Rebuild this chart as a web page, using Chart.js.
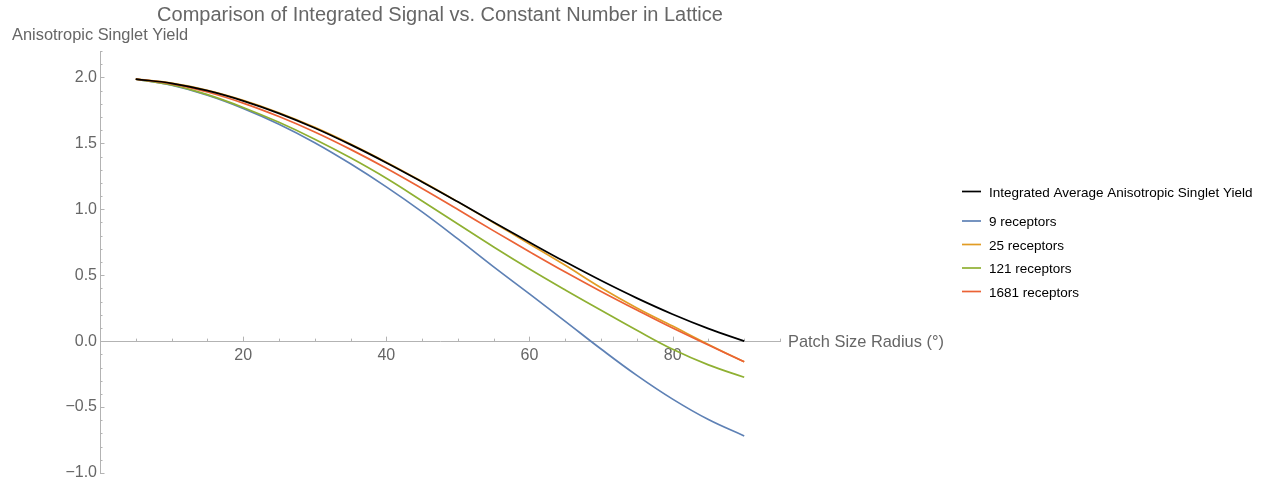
<!DOCTYPE html>
<html>
<head>
<meta charset="utf-8">
<script src="https://cdn.jsdelivr.net/npm/chart.js@4"></script>
<style>
    html, body { margin: 0; padding: 0; background: #fff; }
    #contenedor { width: 1265px; height: 481px; }
</style>
</head>
<body>
<div id="contenedor"><canvas id="graficoRendimiento" width="1265" height="481"></canvas></div>
<script>
// patch size radius (degrees)
const radios = [5, 10, 15, 20, 25, 30, 35, 40, 45, 50, 55, 60, 65, 70, 75, 80, 85, 90];

// anisotropic singlet yield
const promedioIntegrado = [1.987, 1.955, 1.899, 1.822, 1.727, 1.616, 1.490, 1.353, 1.207, 1.056, 0.902, 0.750, 0.601, 0.459, 0.326, 0.204, 0.095, 0.000];
const receptores9 = [1.987, 1.940, 1.865, 1.765, 1.645, 1.505, 1.345, 1.170, 0.980, 0.775, 0.563, 0.358, 0.150, -0.060, -0.260, -0.440, -0.595, -0.719];
const receptores25 = [1.987, 1.957, 1.902, 1.826, 1.732, 1.621, 1.495, 1.357, 1.210, 1.056, 0.897, 0.737, 0.575, 0.405, 0.252, 0.114, -0.025, -0.157];
const receptores121 = [1.987, 1.943, 1.869, 1.772, 1.659, 1.531, 1.390, 1.235, 1.063, 0.888, 0.714, 0.547, 0.388, 0.234, 0.082, -0.062, -0.180, -0.274];
const receptores1681 = [1.987, 1.951, 1.889, 1.805, 1.703, 1.586, 1.454, 1.311, 1.157, 0.998, 0.836, 0.678, 0.524, 0.377, 0.236, 0.099, -0.030, -0.157];

const etiquetas = ['Integrated Average Anisotropic Singlet Yield', '9 receptors', '25 receptors', '121 receptors', '1681 receptors'];
const ticksX = [20, 40, 60, 80];
const ticksY = [-1.0, -0.5, 0.0, 0.5, 1.0, 1.5, 2.0];

const titulo = 'Comparison of Integrated Signal vs. Constant Number in Lattice';
const tituloX = 'Patch Size Radius (°)';
const tituloY = 'Anisotropic Singlet Yield';

const fuente = '"Liberation Sans", Arial, sans-serif';
const grisEje = '#b3b3b3';
const grisTexto = '#666666';

window.onload = function() {
    const puntos = serie => radios.map((r, i) => ({x: r, y: serie[i]}));

    // minor ticks, titles and legend drawn by hand (Mathematica look)
    const decoracion = {
        id: 'decoracion',
        beforeDatasetsDraw(chart) {
            const {ctx, scales: {x, y}} = chart;
            const x0 = x.getPixelForValue(0);
            const y0 = y.getPixelForValue(0);
            ctx.save();
            ctx.strokeStyle = grisEje;
            ctx.lineWidth = 1;
            ctx.beginPath();
            for (let v = 5; v <= 95; v += 5) {
                const px = Math.round(x.getPixelForValue(v)) + 0.5;
                const largo = v % 20 === 0 ? 4.5 : 2.5;
                ctx.moveTo(px, y0);
                ctx.lineTo(px, y0 - largo);
            }
            for (let i = -10; i <= 22; i++) {
                const py = Math.round(y.getPixelForValue(i / 10)) + 0.5;
                const largo = i % 5 === 0 ? 4.5 : 2.5;
                ctx.moveTo(x0, py);
                ctx.lineTo(x0 + largo, py);
            }
            ctx.stroke();
            ctx.restore();
        },
        afterDraw(chart) {
            const {ctx, scales: {x, y}} = chart;
            const y0 = y.getPixelForValue(0);
            ctx.save();
            ctx.fillStyle = grisTexto;
            ctx.textBaseline = 'alphabetic';

            ctx.font = '20px ' + fuente;
            ctx.textAlign = 'center';
            ctx.fillText(titulo, (x.left + x.right) / 2, 21);

            ctx.font = '16.4px ' + fuente;
            ctx.textAlign = 'left';
            ctx.fillText(tituloY, 12, 40);
            ctx.fillText(tituloX, x.right + 8, y0 + 6);

            // legend
            ctx.font = '13.5px ' + fuente;
            chart.data.datasets.forEach((ds, i) => {
                const fila = i === 0 ? 191.5 : 221 + (i - 1) * 23.5;
                ctx.strokeStyle = ds.borderColor;
                ctx.lineWidth = 1.7;
                ctx.beginPath();
                ctx.moveTo(962, fila);
                ctx.lineTo(981, fila);
                ctx.stroke();
                ctx.fillStyle = '#000';
                ctx.fillText(ds.label, 989, fila + 5);
            });
            ctx.restore();
        }
    };

    const ctx = document.getElementById('graficoRendimiento').getContext('2d');
    new Chart(ctx, {
        type: 'line',
        data: {
            datasets: [
                { label: etiquetas[0], data: puntos(promedioIntegrado), borderColor: '#000000', order: 0 },
                { label: etiquetas[1], data: puntos(receptores9), borderColor: '#5E81B5', order: 4 },
                { label: etiquetas[2], data: puntos(receptores25), borderColor: '#E19C24', order: 3 },
                { label: etiquetas[3], data: puntos(receptores121), borderColor: '#8FB032', order: 2 },
                { label: etiquetas[4], data: puntos(receptores1681), borderColor: '#EB6235', order: 1 }
            ]
        },
        options: {
            responsive: false,
            animation: false,
            datasets: {
                line: {
                    borderWidth: 1.7,
                    pointRadius: 0,
                    fill: false,
                    tension: 0.4
                }
            },
            layout: {
                padding: { left: 0, top: 51, right: 485, bottom: 8 }
            },
            scales: {
                x: {
                    type: 'linear',
                    min: 0,
                    max: 95,
                    position: { y: 0 },
                    afterBuildTicks: eje => { eje.ticks = ticksX.map(v => ({value: v})); },
                    afterFit: eje => { eje.paddingLeft = 0; eje.paddingRight = 0; },
                    grid: { display: false, drawTicks: false },
                    border: { display: true, color: grisEje, width: 1 },
                    ticks: {
                        padding: 5,
                        color: grisTexto,
                        font: { family: fuente, size: 16 },
                        maxRotation: 0
                    }
                },
                y: {
                    type: 'linear',
                    min: -1.0,
                    max: 2.2,
                    position: 'left',
                    afterFit: eje => { eje.width = 100; eje.paddingTop = 0; eje.paddingBottom = 0; },
                    afterBuildTicks: eje => { eje.ticks = ticksY.map(v => ({value: v})); },
                    grid: { display: false, drawTicks: false },
                    border: { display: true, color: grisEje, width: 1 },
                    ticks: {
                        padding: 3,
                        color: grisTexto,
                        font: { family: fuente, size: 16 },
                        callback: v => Number(v).toFixed(1).replace('-', '\u2212')
                    }
                }
            },
            plugins: {
                legend: { display: false },
                tooltip: { enabled: false },
                title: { display: false }
            }
        },
        plugins: [decoracion]
    });
};
</script>
</body>
</html>
